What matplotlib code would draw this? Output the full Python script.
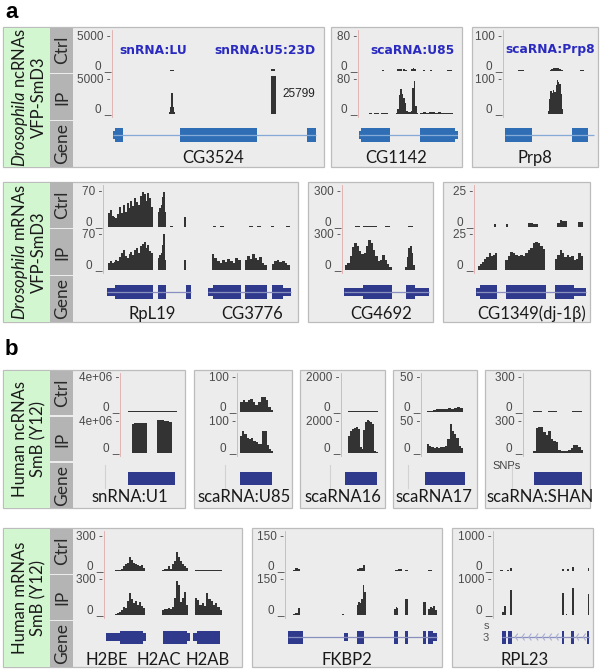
import numpy as np
import matplotlib.pyplot as plt
from matplotlib.patches import Rectangle

plt.rcParams['font.family'] = ['Lato', 'DejaVu Sans']
plt.rcParams['mathtext.fontset'] = 'custom'
plt.rcParams['mathtext.rm'] = 'Lato'
plt.rcParams['mathtext.it'] = 'Lato:italic'

# ---------------- data (x in % of each track width, y in read counts) ----------------
# panel a, Drosophila ncRNAs
cg3524_ctrl = [(27.8, 29.8, [120]), (76.6, 78.6, [350])]
cg3524_ip = [(27.3, 30.3, [300, 1100, 3100, 1100, 300]), (76.4, 78.8, [25799])]
cg3524_exons = [(0.5, 1.5, 'u'), (1.5, 5.3, 'c'), (32.7, 69.7, 'c'), (93.8, 98.1, 'c')]

cg1142_ctrl = [(24, 26, [2]), (39, 44, [4, 5]), (45, 49, [4, 3]), (53, 58, [5, 7, 4]),
               (65, 67, [3]), (72, 74, [3]), (89, 94, [2])]
cg1142_ip = [(9, 32, [1, 2, 1, 2, 2, 1, 2, 3, 2, 1]),
             (38, 60, [3, 12, 45, 58, 48, 38, 25, 6, 4, 4, 8, 62, 78, 20, 3]),
             (62, 95, [3, 4, 3, 5, 4, 3, 4, 3, 2, 2, 3])]
cg1142_exons = [(1, 3, 'u'), (3, 32, 'c'), (62, 97, 'c'), (97, 100, 'u')]

prp8_ctrl = [(16, 23, [3, 3]), (50, 65, [3, 6, 9, 10, 8, 5, 3]), (83, 87, [3])]
prp8_ip = [(2, 24, [1, 1, 1, 1, 1]), (27, 32, [1]),
           (48, 65, [10, 45, 68, 62, 70, 66, 85, 100, 95, 88, 60, 15]), (80, 91, [1, 1, 1])]
prp8_exons = [(2, 31, 'c'), (74, 91, 'c')]

# panel a, Drosophila mRNAs
rpl19_ctrl = [(2.6, 26.5, [28, 35, 22, 20, 18, 26, 40, 28, 45, 30, 48, 38, 52, 42, 58, 50,
                           44, 62, 70, 66, 52, 68, 58, 40]),
              (29, 33.5, [30, 38, 45, 60, 70, 30]), (35.4, 37, [2]), (42.8, 43.9, [20, 58, 20]),
              (58, 66, [2, 1, 2, 1]), (69, 72, [1]), (75, 86, [1, 2, 1, 2, 1]),
              (89, 90.5, [2]), (97, 99, [2])]
rpl19_ip = [(2.6, 26.5, [15, 18, 14, 16, 20, 18, 26, 35, 40, 28, 24, 32, 36, 30, 40, 45,
                         34, 48, 52, 57, 45, 50, 38, 35]),
            (29, 33.5, [25, 30, 35, 50, 72, 20]), (34, 42.5, [1, 1, 1, 1, 1, 1]),
            (42.8, 43.9, [20, 57, 20]),
            (57.5, 72.8, [33, 25, 18, 15, 20, 16, 22, 18, 15, 24, 20]),
            (75.1, 86.6, [20, 28, 22, 33, 25, 20, 26, 15, 10]),
            (89.2, 98.9, [12, 18, 20, 16, 18, 14, 10])]
rpl19_exons = [(2.1, 6.4, 'u'), (6.4, 26.5, 'c'), (29.1, 33.3, 'c'), (43.9, 46.6, 'c'),
               (55.6, 58.2, 'u'), (58.2, 73, 'c'), (75.1, 86.8, 'c'), (89.4, 95.2, 'c'),
               (95.2, 99.5, 'u')]

cg4692_ctrl = [(14.8, 20.5, [6]), (23.9, 39.8, [5, 8, 6, 7]), (48.9, 54.5, [6]), (75, 80.7, [7])]
cg4692_ip = [(3.4, 56.4, [40, 60, 120, 200, 235, 210, 160, 140, 150, 210, 257, 230, 170, 120,
                          80, 90, 130, 90, 50, 30]),
             (60, 68, [2, 2]), (71.6, 83, [30, 110, 190, 206, 150, 40]), (84, 95, [3, 3, 3])]
cg4692_exons = [(2.7, 24.3, 'u'), (24.3, 56.4, 'c'), (72.3, 83, 'c'), (83, 99, 'u')]

cg1349_ctrl = [(17.8, 19.2, [2]), (28, 29.5, [2]), (47.4, 51.8, [3]), (51.8, 56.1, [2]),
               (72.8, 81.6, [3, 5, 4, 4]), (91.2, 95.6, [3.5])]
cg1349_ip = [(3.5, 20.2, [3, 4, 6, 8, 9, 12, 10, 11, 12]),
             (27.2, 62.3, [7, 10, 13, 12, 11, 10, 11, 10, 12, 14, 16, 19, 20, 19, 17, 15]),
             (71, 95.6, [8, 11, 14, 12, 9, 11, 9, 10, 7, 8, 12, 10])]
cg1349_exons = [(1.8, 5.3, 'u'), (5.3, 19.9, 'c'), (27.8, 62.9, 'c'), (71, 88, 'c'), (88, 98.2, 'u')]

# panel b, human ncRNAs
u1_ctrl = [(13.8, 98, [8e4])]
u1_ip = [(20, 46, [3.8e6, 3.85e6, 3.85e6, 3.9e6, 3.9e6, 3.9e6]),
         (63, 89, [4.2e6, 4.25e6, 4.2e6, 4.15e6, 4.1e6, 4.05e6])]
u1_exons = [(13.8, 94.8, 'c')]

u85_ctrl = [(5.7, 68.5, [30, 35, 28, 34, 38, 30, 22, 28, 44, 45, 35, 15, 6])]
u85_ip = [(5.7, 68.5, [55, 70, 62, 50, 45, 48, 38, 35, 28, 30, 72, 70, 25, 12, 8])]
u85_exons = [(5.7, 65.4, 'c')]

sca16_ctrl = [(16.7, 88, [40, 50, 40, 30, 50, 60, 40, 30])]
sca16_ip = [(17.5, 45, [1100, 1450, 1550, 1600, 1650, 1550]), (45, 53, [400, 250]),
            (53, 78, [1500, 2000, 2100, 2050, 2000, 1850]), (78, 88, [150, 60])]
sca16_exons = [(9.5, 85, 'c')]

sca17_ctrl = [(12.9, 96, [1, 1, 3, 4, 4, 5, 4, 6, 5, 6, 7, 6])]
sca17_ip = [(12.9, 96, [14, 12, 10, 8, 9, 8, 10, 9, 12, 22, 47, 36, 30, 24, 12, 8])]
sca17_exons = [(9, 100, 'c')]

shan_ctrl = [(16.7, 31.7, [6]), (41.7, 56.7, [6]), (81.7, 98.3, [8, 10, 8])]
shan_ip = [(17, 100, [20, 240, 255, 250, 200, 170, 210, 140, 120, 110, 25, 20, 18, 20, 25,
                      45, 75, 80, 60, 25])]
shan_exons = [(19, 99, 'c')]

# panel b, human mRNAs
h2_ctrl = [(8.9, 33, [5, 8, 12, 20, 40, 60, 75, 120, 100, 70, 60, 55, 45, 50, 30]),
           (46.5, 68, [12, 18, 15, 45, 20, 60, 90, 166, 120, 85, 60, 40, 25]),
           (73.4, 95, [6, 8, 5, 7, 6, 8, 5])]
h2_ip = [(8.9, 33, [8, 15, 25, 40, 70, 60, 120, 186, 140, 100, 120, 90, 110, 80, 60]),
         (46.5, 68, [45, 50, 55, 60, 55, 70, 150, 295, 260, 110, 150, 200, 90]),
         (73.4, 95, [150, 130, 90, 100, 80, 186, 140, 120, 90, 100, 70, 45]),
         (96.5, 99, [2])]
h2_exons = [(1.6, 12.9, 'u'), (12.9, 31.7, 'c'), (31.7, 33.6, 'u'), (47.8, 67.2, 'c'),
            (67.2, 69.4, 'u'), (72, 74.7, 'u'), (74.7, 93.5, 'c')]

fkbp2_ctrl = [(5.2, 9.8, [6, 12, 10]), (26.1, 30.7, [2, 2]), (46.9, 52.3, [8, 14, 12, 25]),
              (71.9, 76.3, [6, 8]), (78.4, 80.2, [4]), (93.7, 96.3, [6])]
fkbp2_ip = [(5.2, 9.8, [5, 10, 28]), (37.5, 38.8, [3]), (46.9, 52.8, [45, 55, 50, 70, 130, 100]),
            (71.4, 74, [25, 35, 30]), (78.4, 80.6, [68]), (90.4, 92.2, [55]),
            (93.7, 99.1, [25, 35, 30, 38, 22])]
fkbp2_exons = [(2.2, 12, 'c'), (38.8, 41, 'u'), (46.9, 51.8, 'c'), (71.4, 74, 'c'),
               (78.4, 80.2, 'c'), (90.4, 91.9, 'c'), (93.7, 97, 'c'), (97, 99.1, 'u')]

rpl23_ctrl = [(7.2, 10.6, [30]), (14, 16, [40]), (17.5, 20, [90]), (70.8, 73.5, [70]),
              (76, 78.4, [60]), (81.1, 83.8, [110]), (97.6, 99, [80])]
rpl23_ip = [(8.9, 13, [80, 250]), (17.5, 20, [720]), (40, 43.5, [10, 10]), (70.8, 73.5, [636]),
            (75.5, 76.5, [15]), (81.1, 83.8, [773]), (85, 95, [8, 10, 8, 10]), (97.6, 99, [590])]
rpl23_exons = [(9.6, 13.1, 'c'), (15.8, 19.3, 'c'), (70.8, 73.5, 'c'), (80.4, 83.8, 'c'),
               (97.2, 99, 'c')]

# ---------------- styles ----------------
PANEL_BG = '#ececec'
BORDER = '#bcbcbc'
GREEN = '#d2f6cf'
STRIP = '#b4b4b4'
COV = '#333333'
AXIS_RED = '#e2aaaa'
TAG = '#2a2ac0'
BLUE_A = '#2f6eb5'
BLUE_A_LINE = '#86aad8'
NAVY = '#2f3a8c'
NAVY_LINE = '#8990bf'
TICK_C = '#4a4a4a'

W, H = 600, 670
fig = plt.figure(figsize=(6, 6.7), dpi=100)
fig.patch.set_facecolor('white')


def frect(x0, y0, x1, y1, **kw):
    fig.patches.append(Rectangle((x0 / W, 1 - y1 / H), (x1 - x0) / W, (y1 - y0) / H,
                                 transform=fig.transFigure, **kw))


def fline(xs, ys, **kw):
    fig.add_artist(plt.Line2D([x / W for x in xs], [1 - y / H for y in ys],
                              transform=fig.transFigure, **kw))


def ftext(x, y, s, **kw):
    fig.text(x / W, 1 - y / H, s, **kw)


def px_axes(x0, y0, x1, y1):
    ax = fig.add_axes([x0 / W, 1 - y1 / H, (x1 - x0) / W, (y1 - y0) / H])
    ax.set_axis_off()
    ax.set_xlim(0, 100)
    return ax


def row_frame(top, bot, x1, line1, line2):
    frect(3, top, x1, bot, fc=PANEL_BG, ec=BORDER, lw=0.9, zorder=-5)
    frect(3.5, top + 0.5, 50, bot - 0.5, fc=GREEN, ec='none', zorder=-4)
    h = (bot - top) / 3
    for i, lab in enumerate(['Ctrl', 'IP', 'Gene']):
        y0 = top + i * h + (0.8 if i else 0.5)
        y1 = top + (i + 1) * h - (0.8 if i < 2 else 0.5)
        frect(50, y0, 73, y1, fc=STRIP, ec='none', zorder=-4)
        ftext(62, (y0 + y1) / 2, lab, rotation=90, ha='center', va='center',
              fontsize=12.5, color='#2a2a2a')
    ftext(20, (top + bot) / 2, line1, rotation=90, ha='center', va='center',
          fontsize=12, color='#1a1a1a')
    ftext(38.5, (top + bot) / 2, line2, rotation=90, ha='center', va='center',
          fontsize=12, color='#1a1a1a')


def track(x0, x1, ytop, y0, ymax, segs, label):
    pad = 4
    ax = px_axes(x0, ytop - pad, x1, y0)
    ax.set_ylim(0, ymax * (y0 - ytop + pad) / (y0 - ytop))
    for a, b, vals in segs:
        ax.stairs(vals, np.linspace(a, b, len(vals) + 1), fill=True, color=COV, lw=0)
    ftext(x0 - 1, ytop, label + ' -', ha='right', va='center', fontsize=8.5,
          color=TICK_C, family='Liberation Sans')
    ftext(x0 - 1, y0 + 1.5, '0 _', ha='right', va='bottom', fontsize=8.5,
          color=TICK_C, family='Liberation Sans')


def gene_track(x0, x1, yc, exons, color, lcolor, introns=(), chevrons=None, hh=7):
    ax = px_axes(x0, yc - 10, x1, yc + 10)
    ax.set_ylim(-10, 10)
    for a, b in introns:
        ax.plot([a, b], [0, 0], color=lcolor, lw=0.9, solid_capstyle='butt')
    if chevrons is not None:
        for c in chevrons:
            ax.plot([c + 2.2, c, c + 2.2], [3, 0, -3], color='#a9aed3', lw=0.8)
    for a, b, kind in exons:
        h = hh if kind == 'c' else hh * 0.55
        ax.add_patch(Rectangle((a, -h), b - a, 2 * h, fc=color, ec='none'))


def panel(row, bx0, bx1, ax_x, ax_r, ymax, label, ctrl, ip, exons, names, color, lcolor,
          introns=(), chevrons=None, frame=True, gene_hh=7):
    if frame:
        frect(bx0, row['top'], bx1, row['bot'], fc=PANEL_BG, ec=BORDER, lw=0.9, zorder=-5)
    fline([ax_x, ax_x], [row['top'] + 3, row['ip'][1] + 3], color=AXIS_RED, lw=0.6)
    track(ax_x, ax_r, row['ctrl'][0], row['ctrl'][1], ymax, ctrl, label)
    track(ax_x, ax_r, row['ip'][0], row['ip'][1], ymax, ip, label)
    gene_track(ax_x, ax_r, row['gene'], exons, color, lcolor, introns, chevrons, gene_hh)
    for nm, cx in names:
        ftext(cx, row['name'], nm, ha='center', va='center', fontsize=12, color='#1a1a1a')


rowA1 = dict(top=27, bot=167, ctrl=(37, 71), ip=(80, 114), gene=135, name=158)
rowA2 = dict(top=182, bot=322, ctrl=(192, 227), ip=(235, 270), gene=292, name=314)
rowB1 = dict(top=370, bot=508, ctrl=(378, 412), ip=(422, 453), gene=478.5, name=497)
rowB2 = dict(top=528, bot=667, ctrl=(537, 571), ip=(580, 615), gene=637, name=660)

ftext(5, 12, 'a', fontsize=16, fontweight='bold', va='center', family='Liberation Sans')
ftext(5, 350, 'b', fontsize=16, fontweight='bold', va='center', family='Liberation Sans')

# ----- row a1 -----
row_frame(27, 167, 324, r'$\mathit{Drosophila}$ ncRNAs', 'VFP-SmD3')
panel(rowA1, 0, 0, 112, 320, 5000, '5000', cg3524_ctrl, cg3524_ip, cg3524_exons,
      [('CG3524', 213)], BLUE_A, BLUE_A_LINE, [(0.5, 98.1)], frame=False)
panel(rowA1, 331, 462, 358, 458, 80, '80', cg1142_ctrl, cg1142_ip, cg1142_exons,
      [('CG1142', 396.5)], BLUE_A, BLUE_A_LINE, [(1, 100)])
panel(rowA1, 472, 598, 503, 596, 100, '100', prp8_ctrl, prp8_ip, prp8_exons,
      [('Prp8', 535)], BLUE_A, BLUE_A_LINE, [(2, 98)])
for s, cx in [('snRNA:LU', 153), ('snRNA:U5:23D', 265), ('scaRNA:U85', 412.5),
              ('scaRNA:Prp8', 550.5)]:
    ftext(cx, 50, s, ha='center', va='center', fontsize=8.8, fontweight='bold', color=TAG,
          family='DejaVu Sans')
ftext(282, 94, '25799', ha='left', va='center', fontsize=8.5, color='#222222',
      family='Liberation Sans')

# ----- row a2 -----
row_frame(182, 322, 298, r'$\mathit{Drosophila}$ mRNAs', 'VFP-SmD3')
panel(rowA2, 0, 0, 103, 292, 70, '70', rpl19_ctrl, rpl19_ip, rpl19_exons,
      [('RpL19', 152), ('CG3776', 252)], NAVY, NAVY_LINE, [(2.1, 46.6), (55.6, 99.5)],
      frame=False)
panel(rowA2, 308, 433, 342, 430, 300, '300', cg4692_ctrl, cg4692_ip, cg4692_exons,
      [('CG4692', 381)], NAVY, NAVY_LINE, [(2.7, 99)])
panel(rowA2, 443, 590, 474, 588, 25, '25', cg1349_ctrl, cg1349_ip, cg1349_exons,
      [('CG1349(dj-1β)', 532)], NAVY, NAVY_LINE, [(1.8, 98.2)])

# ----- row b1 -----
row_frame(370, 508, 185, 'Human ncRNAs', 'SmB (Y12)')
b1_layout = [(0, 0, 120, 178, 4e6, '4e+06', u1_ctrl, u1_ip, u1_exons, 'snRNA:U1', 129.5, 105),
             (194, 292, 237, 290, 100, '100', u85_ctrl, u85_ip, u85_exons, 'scaRNA:U85', 244, 225),
             (300, 385, 341, 383, 2000, '2000', sca16_ctrl, sca16_ip, sca16_exons, 'scaRNA16', 343, 330),
             (393, 477, 421, 465, 50, '50', sca17_ctrl, sca17_ip, sca17_exons, 'scaRNA17', 434, 408),
             (485, 590, 523, 583, 300, '300', shan_ctrl, shan_ip, shan_exons, 'scaRNA:SHAN', 540, 512)]
for bx0, bx1, axx, axr, ym, lab, c, i, e, nm, cx, vx in b1_layout:
    panel(rowB1, bx0, bx1, axx, axr, ym, lab, c, i, e, [(nm, cx)], NAVY, NAVY_LINE,
          frame=bx1 > 0, gene_hh=6.5)
    fline([vx, vx], [465, 488], color='#d2d2d2', lw=0.8)
ftext(507, 466, 'SNPs', ha='center', va='center', fontsize=8, color='#444444',
      family='Liberation Sans')

# ----- row b2 -----
row_frame(528, 667, 242, 'Human mRNAs', 'SmB (Y12)')
panel(rowB2, 0, 0, 104, 228, 300, '300', h2_ctrl, h2_ip, h2_exons,
      [('H2BE', 107), ('H2AC', 159), ('H2AB', 208)], NAVY, NAVY_LINE, frame=False, gene_hh=6.5)
panel(rowB2, 252, 442, 285, 438, 150, '150', fkbp2_ctrl, fkbp2_ip, fkbp2_exons,
      [('FKBP2', 347)], NAVY, NAVY_LINE, [(2.2, 99.1)], gene_hh=6.5)
panel(rowB2, 452, 593, 493, 590, 1000, '1000', rpl23_ctrl, rpl23_ip, rpl23_exons,
      [('RPL23', 525)], NAVY, NAVY_LINE, [(9.6, 99)],
      chevrons=np.r_[np.arange(23, 69, 7), np.arange(86, 96, 7)], gene_hh=6.5)
ftext(486, 626, 's', ha='center', va='center', fontsize=8, color='#555555',
      family='Liberation Sans')
ftext(486, 638, '3', ha='center', va='center', fontsize=8, color='#555555',
      family='Liberation Sans')

fig.savefig('out.png', dpi=100)
